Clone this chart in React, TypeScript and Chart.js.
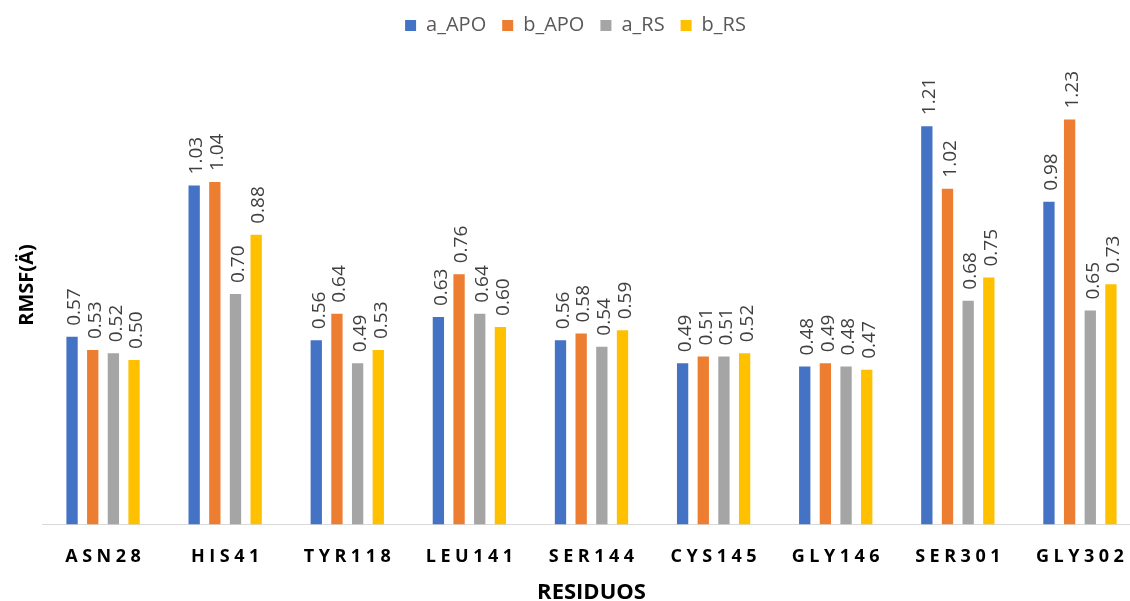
import { useEffect, useRef } from 'react';
import { Chart, registerables, CategoryScale } from 'chart.js';

const categories = ['ASN28', 'HIS41', 'TYR118', 'LEU141', 'SER144', 'CYS145', 'GLY146', 'SER301', 'GLY302'];
const seriesNames = ['a_APO', 'b_APO', 'a_RS', 'b_RS'];
const aAPO = [0.57, 1.03, 0.56, 0.63, 0.56, 0.49, 0.48, 1.21, 0.98];
const bAPO = [0.53, 1.04, 0.64, 0.76, 0.58, 0.51, 0.49, 1.02, 1.23];
const aRS = [0.52, 0.70, 0.49, 0.64, 0.54, 0.51, 0.48, 0.68, 0.65];
const bRS = [0.50, 0.88, 0.53, 0.60, 0.59, 0.52, 0.47, 0.75, 0.73];
const seriesColors = ['#4472C4', '#ED7D31', '#A5A5A5', '#FFC000'];
const yTitle = 'RMSF(Ä)';
const xTitle = 'RESIDUOS';

class SpacedCategoryScale extends CategoryScale {
  static id = 'spacedCategory';
  static defaults = CategoryScale.defaults;
  drawLabels(area: any) {
    const ctx = (this as any).ctx as CanvasRenderingContext2D;
    ctx.save();
    (ctx as any).letterSpacing = '4.5px';
    ctx.translate(2.25, 0);
    super.drawLabels(area);
    ctx.restore();
  }
}

Chart.register(...registerables, SpacedCategoryScale);

const barLabels = {
  id: 'barLabels',
  afterDatasetsDraw(chart: any) {
    const ctx = chart.ctx as CanvasRenderingContext2D;
    ctx.save();
    ctx.font = '19px "Open Sans"';
    ctx.fillStyle = '#404040';
    ctx.textAlign = 'left';
    ctx.textBaseline = 'alphabetic';
    chart.data.datasets.forEach((ds: any, i: number) => {
      const meta = chart.getDatasetMeta(i);
      meta.data.forEach((el: any, j: number) => {
        const v = ds.data[j] as number;
        ctx.save();
        ctx.translate(el.x + 1.5, el.y - 11);
        ctx.rotate(-Math.PI / 2);
        ctx.fillText(v.toFixed(2), 0, 6.8);
        ctx.restore();
      });
    });
    ctx.restore();
  },
};

export default function App() {
  const ref = useRef<HTMLCanvasElement | null>(null);
  useEffect(() => {
    if (!ref.current) return;
    Chart.defaults.font.family = '"Open Sans", sans-serif';
    const seriesData = [aAPO, bAPO, aRS, bRS];
    const chart = new Chart(ref.current, {
      type: 'bar',
      data: {
        labels: categories,
        datasets: seriesNames.map((name, i) => ({
          label: name,
          data: seriesData[i],
          backgroundColor: seriesColors[i],
          borderWidth: 0,
          barPercentage: 0.547,
          categoryPercentage: 0.677,
        })),
      },
      options: {
        responsive: false,
        maintainAspectRatio: false,
        devicePixelRatio: 1,
        animation: false,
        layout: { padding: { top: -0.5, left: 10, right: 9, bottom: 0 } },
        plugins: {
          tooltip: { enabled: false },
          legend: {
            position: 'top',
            labels: {
              boxWidth: 11,
              boxHeight: 11,
              padding: 16,
              color: '#595959',
              font: { size: 20 },
            },
          },
        },
        scales: {
          x: {
            type: 'spacedCategory' as any,
            offset: true,
            grid: { display: false, drawTicks: false },
            border: { display: true, color: '#D9D9D9', width: 1 },
            ticks: {
              padding: 22,
              maxRotation: 0,
              autoSkip: false,
              color: '#000000',
              font: { size: 18, weight: 'bold' },
            },
            title: {
              display: true,
              text: xTitle,
              color: '#000000',
              font: { size: 22, weight: 'bold', lineHeight: 1 },
              padding: { top: 12, bottom: -3 },
            },
            afterFit: (scale: any) => {
              scale.height = 76.5;
            },
          },
          y: {
            min: 0,
            max: 1.455,
            ticks: { display: false },
            grid: { display: false, drawTicks: false },
            border: { display: false },
            title: {
              display: true,
              text: yTitle,
              color: '#000000',
              font: { size: 20, weight: 'bold' },
              padding: { top: 5, bottom: 3 },
            },
          },
        },
      },
      plugins: [barLabels],
    } as any);
    return () => chart.destroy();
  }, []);
  return (
    <div style={{ position: 'absolute', left: 0, top: 0, width: 1130, height: 601, overflow: 'hidden', background: '#ffffff' }}>
      <canvas ref={ref} width={1150} height={601} style={{ display: 'block', width: 1150, height: 601 }} />
    </div>
  );
}
